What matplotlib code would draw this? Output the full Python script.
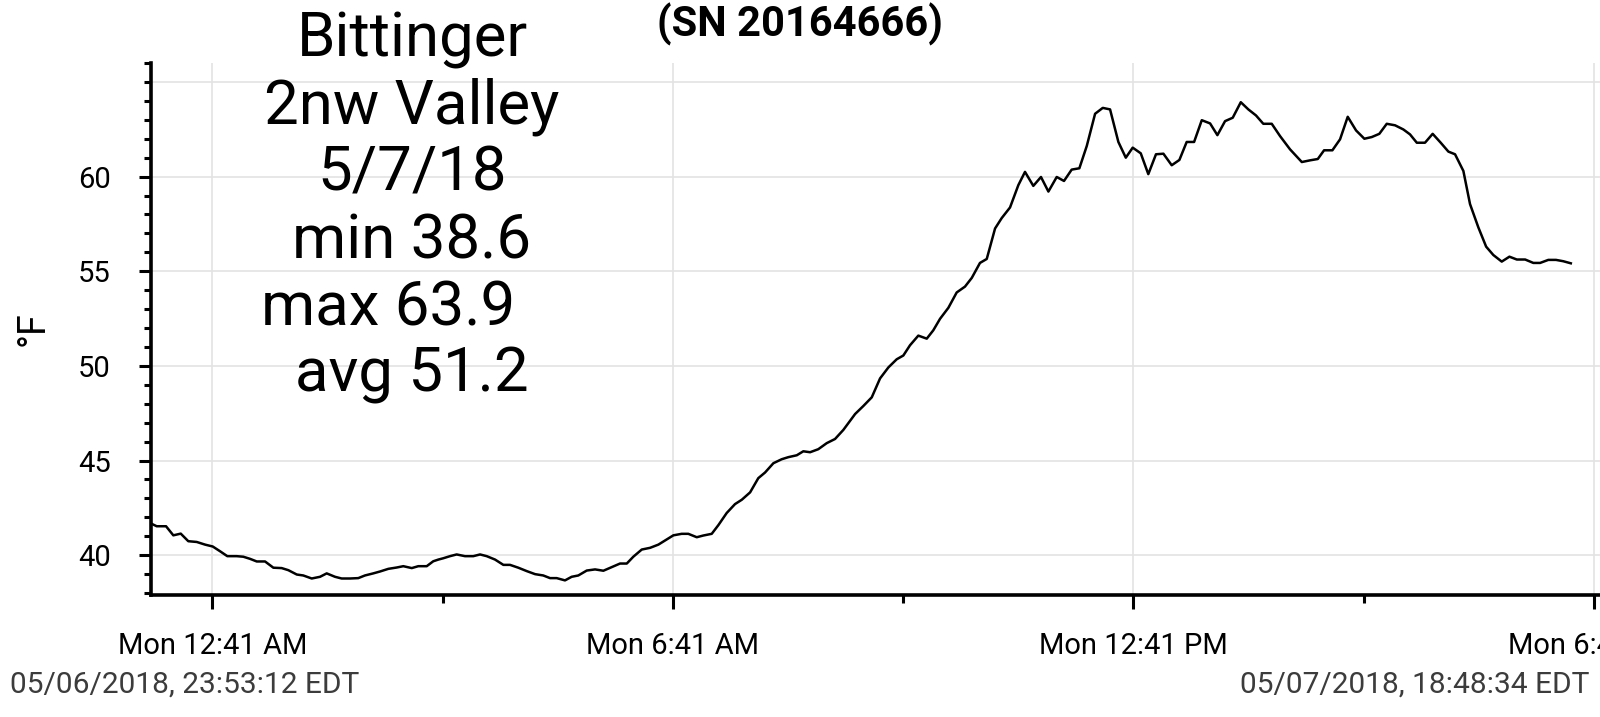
import matplotlib
matplotlib.use("Agg")
import matplotlib.pyplot as plt
import pandas as pd
from matplotlib.ticker import MultipleLocator

plt.rcParams['font.family'] = ['Roboto', 'DejaVu Sans']

# logger window shown on screen
start = pd.Timestamp("2018-05-06 23:53:12")
end = pd.Timestamp("2018-05-07 18:48:34")

# minutes after start, and temperature in °F
minutes = [0, 4.3, 11.6, 17.3, 23.1, 29.0, 35.6, 42.1, 48.1, 53.8, 59.5, 66.8, 72.0,
           77.2, 82.5, 89.0, 95.5, 102.0, 107.2, 113.8, 118.9, 125.5, 132.0, 137.2,
           143.7, 148.9, 155.4, 161.9, 167.1, 173.6, 178.9, 185.4, 191.9, 197.1,
           203.7, 208.8, 215.4, 220.5, 224.5, 228.4, 233.6, 238.8, 245.3, 251.8,
           257.1, 262.3, 268.8, 275.3, 280.5, 287.0, 293.6, 300.1, 306.5, 311.8,
           317.0, 323.5, 328.7, 333.9, 340.5, 347.0, 353.5, 360.0, 366.5, 371.8,
           376.9, 383.5, 390.0, 396.5, 403.0, 408.2, 414.7, 419.9, 426.5, 431.6,
           438.2, 443.4, 449.9, 456.4, 461.7, 468.2, 474.6, 479.9, 486.4, 492.9,
           498.1, 504.7, 509.8, 515.1, 521.5, 528.1, 534.6, 541.1, 550.3, 556.7,
           563.3, 569.8, 576.3, 582.8, 588.0, 593.2, 599.7, 606.3, 611.4, 616.7,
           623.2, 629.7, 636.2, 641.5, 647.9, 653.2, 659.7, 664.9, 671.4, 677.9,
           683.1, 689.6, 695.6, 701.4, 707.9, 713.6, 719.6, 725.6, 731.4, 737.9,
           743.9, 749.6, 756.1, 761.9, 767.3, 773.6, 779.5, 785.5, 791.3, 797.8,
           803.8, 809.5, 815.3, 821.3, 827.8, 833.5, 839.5, 845.5, 851.8, 857.7,
           863.7, 869.4, 876.0, 882.5, 890.3, 899.5, 906.0, 912.0, 916.9, 923.4,
           929.4, 935.4, 941.9, 948.4, 954.2, 960.1, 965.9, 972.4, 978.9, 984.1,
           989.4, 995.8, 1001.8, 1008.1, 1014.1, 1019.3, 1025.8, 1031.0, 1037.5,
           1043.6, 1049.2, 1055.8, 1061.8, 1067.6, 1074.1, 1080.5, 1085.8, 1092.2,
           1098.2, 1103.9, 1109.8]
temps = [41.67, 41.53, 41.53, 41.05, 41.14, 40.74, 40.70, 40.56, 40.46, 40.21, 39.95,
         39.95, 39.92, 39.81, 39.67, 39.67, 39.34, 39.32, 39.21, 38.98, 38.93, 38.77,
         38.86, 39.04, 38.86, 38.77, 38.77, 38.79, 38.93, 39.04, 39.14, 39.28, 39.35,
         39.42, 39.32, 39.42, 39.42, 39.68, 39.77, 39.84, 39.95, 40.04, 39.95, 39.95,
         40.04, 39.95, 39.77, 39.49, 39.49, 39.34, 39.16, 39.00, 38.93, 38.79, 38.79,
         38.67, 38.86, 38.93, 39.19, 39.25, 39.18, 39.37, 39.56, 39.56, 39.92, 40.30,
         40.39, 40.56, 40.83, 41.05, 41.13, 41.13, 40.95, 41.04, 41.13, 41.59, 42.23,
         42.70, 42.93, 43.32, 44.07, 44.37, 44.86, 45.07, 45.18, 45.28, 45.49, 45.44,
         45.60, 45.92, 46.14, 46.62, 47.46, 47.88, 48.34, 49.34, 49.92, 50.35, 50.55,
         51.09, 51.60, 51.44, 51.88, 52.49, 53.07, 53.88, 54.19, 54.65, 55.44, 55.65,
         57.26, 57.81, 58.37, 59.55, 60.25, 59.51, 59.98, 59.21, 59.98, 59.77, 60.37,
         60.44, 61.62, 63.32, 63.63, 63.55, 61.83, 61.00, 61.53, 61.23, 60.13, 61.18,
         61.21, 60.60, 60.88, 61.83, 61.83, 62.98, 62.81, 62.19, 62.93, 63.11, 63.93,
         63.55, 63.23, 62.79, 62.79, 62.14, 61.44, 60.77, 60.86, 60.93, 61.39, 61.39,
         61.97, 63.16, 62.44, 62.00, 62.09, 62.26, 62.79, 62.71, 62.49, 62.23, 61.79,
         61.79, 62.26, 61.79, 61.32, 61.18, 60.30, 58.55, 57.32, 56.30, 55.86, 55.51,
         55.77, 55.62, 55.62, 55.44, 55.44, 55.60, 55.60, 55.53, 55.42]

major_ticks = ["2018-05-07 00:41", "2018-05-07 06:41", "2018-05-07 12:41", "2018-05-07 18:41"]
major_labels = ["Mon 12:41 AM", "Mon 6:41 AM", "Mon 12:41 PM", "Mon 6:41 PM"]
minor_ticks = ["2018-05-07 03:41", "2018-05-07 09:41", "2018-05-07 15:41"]
y_labels = [40, 45, 50, 55, 60]

note_lines = ["Bittinger", "2nw Valley", "5/7/18", "min 38.6", "max 63.9", "avg 51.2"]
note_shift = [0, 0, 0, 0, -24, 0]   # "max" line sits a bit left in the original

times = (start + pd.to_timedelta(minutes, unit="min")).to_pydatetime()

fig = plt.figure(figsize=(16, 7.17), dpi=100)
ax = fig.add_axes([0.0945, 0.1702, 0.9077, 0.7419])

grid_c = "#e3e3e3"
ax.plot(times, temps, color="black", lw=1.8, zorder=3)

ax.set_xlim(start.to_pydatetime(), end.to_pydatetime())
ax.set_ylim(37.9, 66)

ax.set_xticks(pd.to_datetime(major_ticks).to_pydatetime())
ax.set_xticklabels(major_labels)
ax.set_xticks(pd.to_datetime(minor_ticks).to_pydatetime(), minor=True)
ax.set_yticks(y_labels)
ax.yaxis.set_minor_locator(MultipleLocator(1))

ax.grid(which="major", color=grid_c, lw=1.2, zorder=0)
ax.axhline(65, color=grid_c, lw=1.2, zorder=0)

for s in ["top", "right"]:
    ax.spines[s].set_visible(False)
for s in ["left", "bottom"]:
    ax.spines[s].set_linewidth(2.6)

ax.tick_params(axis="y", which="major", length=9, width=2.2, labelsize=21, pad=20)
ax.tick_params(axis="y", which="minor", length=5, width=2.2)
ax.tick_params(axis="x", which="major", length=10, width=2.2, labelsize=21, pad=17)
ax.tick_params(axis="x", which="minor", length=6, width=2.2)

fig.text(33 / 1600, 1 - 329 / 717, "°F", rotation=90, ha="center", va="center", fontsize=27)

fig.text(0.5, 1 - 24 / 717, "(SN 20164666)", ha="center", va="center",
         fontsize=30, fontweight="bold")

# big station note in the upper left
for i, line in enumerate(note_lines):
    fig.text((412 + note_shift[i]) / 1600, 1 - (40 + 67 * i) / 717, line,
             ha="center", va="center", fontsize=44.5)

fig.text(10 / 1600, 1 - 685 / 717, "05/06/2018, 23:53:12 EDT", ha="left", va="center",
         fontsize=21.5, color="#3c3c3c")
fig.text(1589 / 1600, 1 - 685 / 717, "05/07/2018, 18:48:34 EDT", ha="right", va="center",
         fontsize=21.5, color="#3c3c3c")

fig.savefig("out.png", dpi=100, facecolor="white")
